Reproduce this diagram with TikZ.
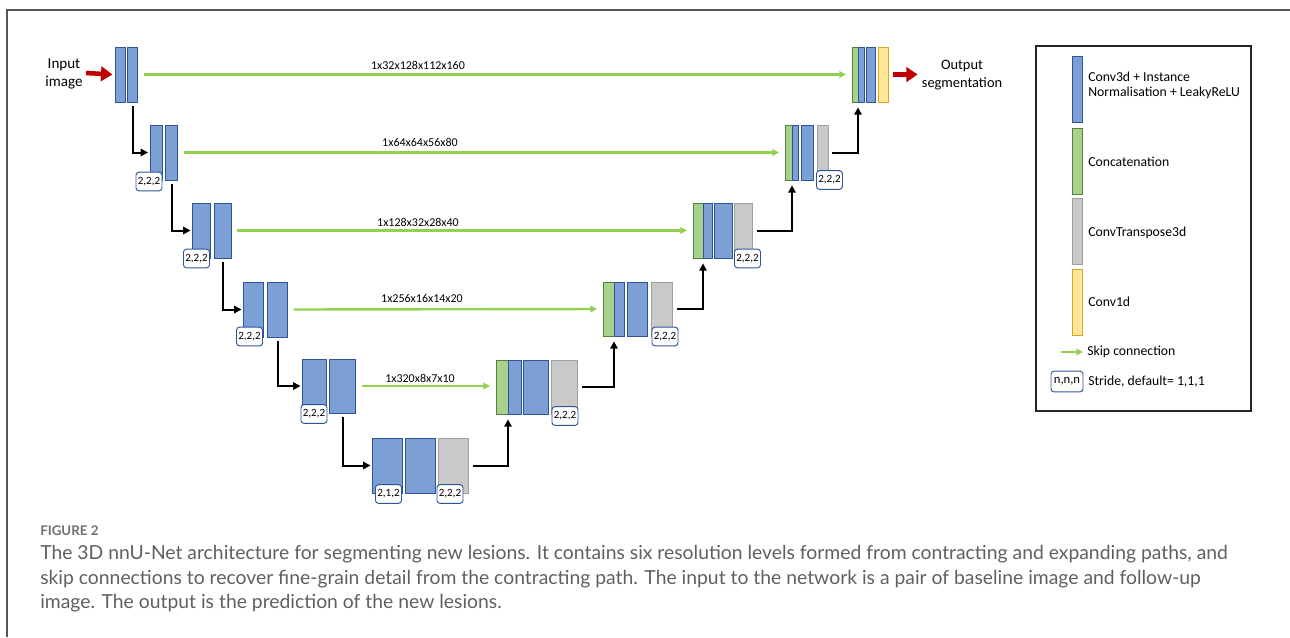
\documentclass[tikz,border=0pt]{standalone}
\usepackage{fontspec}
\setmainfont{Carlito}
\newfontfamily\capfont{Lato}
\usetikzlibrary{arrows.meta}
\definecolor{bfill}{RGB}{124,159,214}
\definecolor{bdraw}{RGB}{47,85,151}
\definecolor{gfill}{RGB}{169,209,142}
\definecolor{gdraw}{RGB}{84,130,53}
\definecolor{grfill}{RGB}{201,201,201}
\definecolor{grdraw}{RGB}{160,160,160}
\definecolor{yfill}{RGB}{255,230,153}
\definecolor{ydraw}{RGB}{214,167,38}
\definecolor{skipc}{RGB}{146,208,80}
\definecolor{redc}{RGB}{192,0,0}
\definecolor{capc}{RGB}{95,95,95}
\definecolor{framec}{RGB}{85,85,85}
\newcommand\blk[6]{\node[#2, minimum width=#5*0.75pt, minimum height=#6*0.75pt] (#1) at (#3,#4) {};}
\newcommand\strd[4]{\node[stridebox] (#1) at (#2,#3) {#4};}
\begin{document}
\begin{tikzpicture}[x=0.75pt,y=-0.75pt,
  base/.style={inner sep=0pt, outer sep=0pt, line width=0.6pt},
  blue/.style={base, draw=bdraw, fill=bfill},
  green/.style={base, draw=gdraw, fill=gfill},
  gray/.style={base, draw=grdraw, fill=grfill},
  yellow/.style={base, draw=ydraw, fill=yfill},
  stridebox/.style={draw=bdraw, fill=white, rounded corners=2.2pt, line width=0.7pt,
    minimum width=19.5pt, minimum height=14pt, inner sep=0pt,
    font=\fontsize{8.3}{9}\selectfont},
  down/.style={line width=1.5pt, -{Triangle[length=5.5pt,width=5.5pt]}, shorten <=3pt, shorten >=1.5pt},
  up/.style={line width=1.5pt, -{Triangle[length=5.5pt,width=5.5pt]}, shorten <=3pt, shorten >=4pt},
  skip/.style={draw=skipc, line width=1.8pt, -{Triangle[length=5pt,width=5pt]}, shorten <=4.5pt, shorten >=4.5pt},
  redarrow/.style={draw=redc, line width=3.4pt, -{Triangle[length=8.5pt,width=11pt]}},
  lbl/.style={font=\fontsize{9}{10}\selectfont, inner sep=0pt},
  legtxt/.style={font=\fontsize{10.3}{12.5}\selectfont, anchor=west, inner sep=0pt, align=left},
  captxt/.style={font=\capfont\fontsize{14.5}{16}\selectfont, text=capc, anchor=base west, inner sep=0pt}
]
\useasboundingbox (0,0) rectangle (1290,637);
% frame
\draw[framec, line width=1pt] (7,637) -- (7,10) -- (1290,10);

% ---------- encoder ----------
\blk{e0a}{blue}{120}{74.5}{10}{55}
\blk{e0b}{blue}{132.5}{74.5}{10}{55}

\blk{e1a}{blue}{156}{152.5}{12}{55}
\blk{e1b}{blue}{171.5}{152.5}{12}{55}
\strd{s1}{149}{181.5}{2,2,2}

\blk{e2a}{blue}{201.5}{230.5}{18}{55}
\blk{e2b}{blue}{222.5}{230.5}{17}{55}
\strd{s2}{196.5}{258.5}{2,2,2}

\blk{e3a}{blue}{253.5}{309.5}{20}{55}
\blk{e3b}{blue}{277.5}{309.5}{20}{55}
\strd{s3}{249.5}{336.5}{2,2,2}

\blk{e4a}{blue}{314.5}{386}{24}{54}
\blk{e4b}{blue}{342.5}{386}{26}{54}
\strd{s4}{314}{414}{2,2,2}

% ---------- bottleneck ----------
\blk{b5a}{blue}{387.5}{465.5}{30}{55}
\blk{b5b}{blue}{420.5}{465.5}{30}{55}
\blk{g5}{gray}{453.5}{465.5}{30}{55}
\strd{s5a}{388.5}{494}{2,1,2}
\strd{s5b}{450}{494}{2,2,2}

% ---------- decoder ----------
\blk{d4g}{green}{502}{387}{12}{54}
\blk{d4b}{blue}{514.5}{387}{13}{54}
\blk{d4c}{blue}{536}{387}{25}{54}
\blk{d4t}{gray}{564.5}{387}{26}{54}
\strd{t4}{565}{416}{2,2,2}

\blk{d3g}{green}{608.5}{309}{11}{54}
\blk{d3b}{blue}{619}{309}{10}{54}
\blk{d3c}{blue}{637.5}{309}{20}{54}
\blk{d3t}{gray}{662}{309}{21}{54}
\strd{t3}{665}{336.5}{2,2,2}

\blk{d2g}{green}{698}{230.5}{10}{55}
\blk{d2b}{blue}{707.5}{230.5}{9}{55}
\blk{d2c}{blue}{723.5}{230.5}{18}{55}
\blk{d2t}{gray}{743.5}{230.5}{18}{55}
\strd{t2}{747.5}{258.5}{2,2,2}

\blk{d1g}{green}{788.5}{152.5}{7}{55}
\blk{d1b}{blue}{795}{152.5}{6}{55}
\blk{d1c}{blue}{807.5}{152.5}{12}{55}
\blk{d1t}{gray}{822.5}{152.5}{11}{55}
\strd{t1}{829.5}{180}{2,2,2}

\blk{d0g}{green}{855}{74.5}{6}{55}
\blk{d0b}{blue}{861}{74.5}{6}{55}
\blk{d0c}{blue}{871}{74.5}{9}{55}
\blk{d0y}{yellow}{883.5}{74.5}{10}{55}

% ---------- input / output ----------
\node[font=\fontsize{11.3}{13}\selectfont, align=center, inner sep=0pt] (inp) at (64,74) {Input\\image};
\coordinate (inarr) at (86,73);
\draw[redarrow] (inarr) -- ([xshift=-2pt]e0a.west);
\node[font=\fontsize{10.8}{13}\selectfont, align=center, inner sep=0pt] (outp) at (962,75) {Output\\segmentation};
\draw[redarrow] ([xshift=3pt]d0y.east) -- ([xshift=-3pt]outp.west |- d0y.east);

% ---------- down arrows ----------
\draw[down] (e0b.south) |- (e1a.west);
\draw[down] (e1b.south) |- (e2a.west);
\draw[down] (e2b.south) |- (e3a.west);
\draw[down] (e3b.south) |- (e4a.west);
\draw[down] (e4b.south) |- (b5a.west);

% ---------- up arrows ----------
\draw[up] (g5.east) -| (d4g.south east);
\draw[up] (d4t.east) -| (d3g.south east);
\draw[up] (d3t.east) -| (d2g.south east);
\draw[up] (d2t.east) -| (d1g.south east);
\draw[up] (d1t.east) -| (d0g.south east);

% ---------- skip connections ----------
\draw[skip] (e0b.east) -- (d0g.west);
\draw[skip] (e1b.east) -- (d1g.west);
\draw[skip] (e2b.east) -- (d2g.west);
\draw[skip] (e3b.east) -- (d3g.west);
\draw[skip] (e4b.east) -- (d4g.west |- e4b.east);

\node[lbl] (l0) at (418,65) {1x32x128x112x160};
\node[lbl] (l1) at (420,142) {1x64x64x56x80};
\node[lbl] (l2) at (418,222) {1x128x32x28x40};
\node[lbl] (l3) at (422,298) {1x256x16x14x20};
\node[lbl] (l4) at (420,378) {1x320x8x7x10};

% ---------- legend ----------
\draw[line width=0.9pt, black!85] (1036,46) rectangle (1251,411);
\blk{lb}{blue}{1077}{89}{10}{66}
\blk{lg}{green}{1077}{161}{10}{66}
\blk{lgr}{gray}{1077}{231}{10}{66}
\blk{ly}{yellow}{1077}{302}{10}{66}
\node[legtxt] (tb) at (1088,85) {Conv3d + Instance\\[-1.5pt]Normalisation + LeakyReLU};
\node[legtxt] (tg) at (1088,162) {Concatenation};
\node[legtxt] (tgr) at (1088,233) {ConvTranspose3d};
\node[legtxt] (ty) at (1088,302) {Conv1d};
\coordinate (ska) at (1061,352);
\coordinate (skb) at (1083,352);
\draw[draw=skipc, line width=1.8pt, -{Triangle[length=5pt,width=5pt]}] (ska) -- (skb);
\node[legtxt] (tsk) at (1087,352) {Skip connection};
\node[stridebox, minimum width=24pt, minimum height=15.5pt, font=\fontsize{9.5}{10}\selectfont] (ls) at (1067,381.5) {n,n,n};
\node[legtxt] (tst) at (1088,381.5) {Stride, default= 1,1,1};

% ---------- caption ----------
\node[font=\capfont\bfseries\fontsize{10}{11}\selectfont, text=capc!90, anchor=base west, inner sep=0pt] (fig) at (40,535) {FIGURE 2};
\node[captxt] (c1) at (40,559) {The 3D nnU-Net architecture for segmenting new lesions. It contains six resolution levels formed from contracting and expanding paths, and};
\node[captxt] (c2) at (40,584) {skip connections to recover fine-grain detail from the contracting path. The input to the network is a pair of baseline image and follow-up};
\node[captxt] (c3) at (40,608) {image. The output is the prediction of the new lesions.};
\end{tikzpicture}
\end{document}
